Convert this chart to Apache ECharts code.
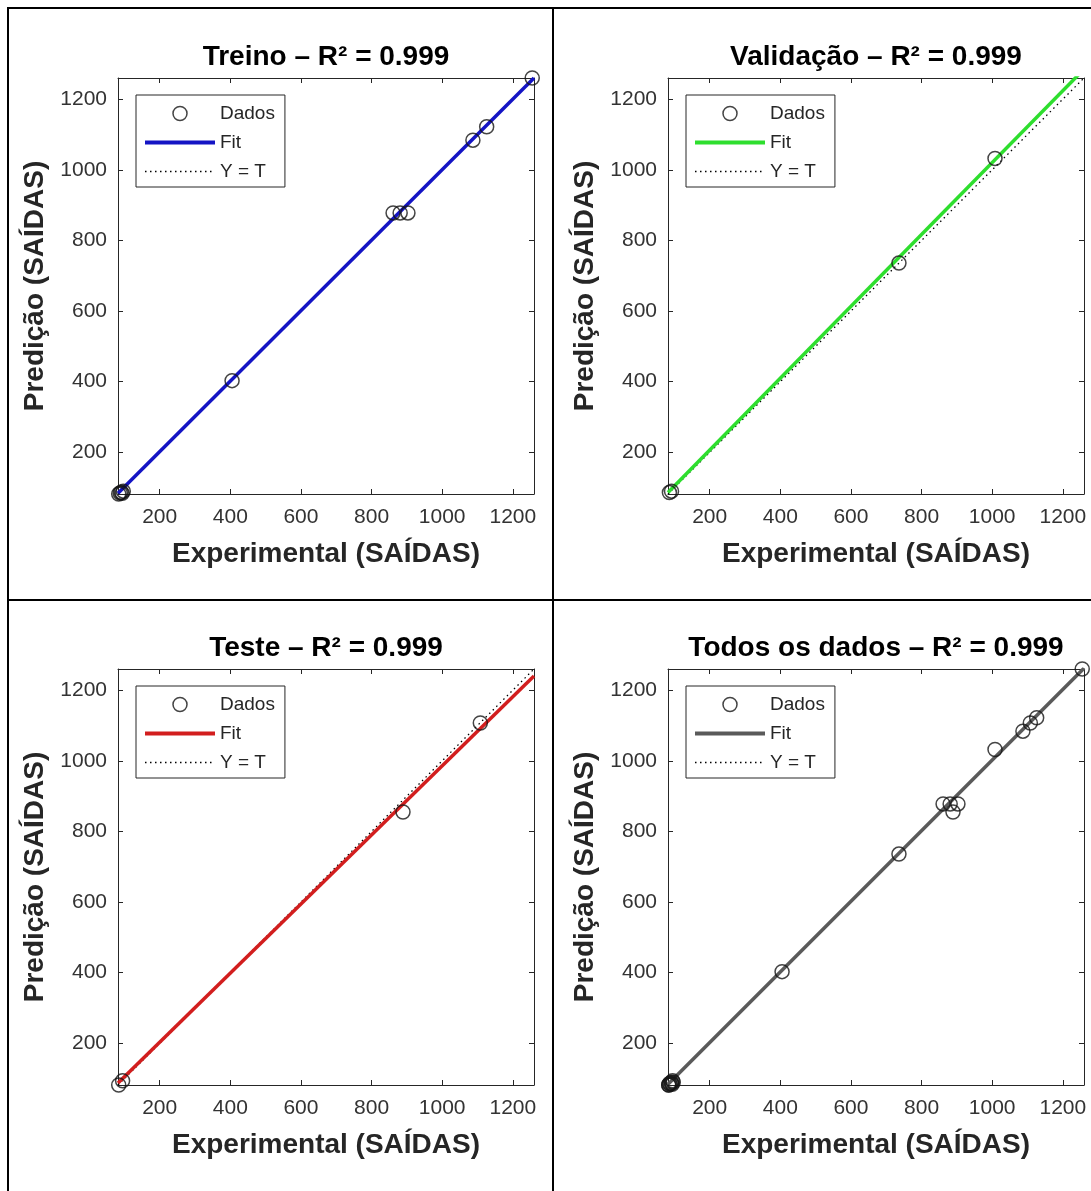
<!DOCTYPE html>
<html><head><meta charset="utf-8">
<script src="https://cdn.jsdelivr.net/npm/echarts@6/dist/echarts.min.js"></script>
<style>html,body{margin:0;padding:0;background:#fff}#c{width:1091px;height:1191px}</style>
</head><body><div id="c"></div>
<script>
// ---- data ----
const axisMin = 82, axisMax = 1260;
const tickValues = [200, 400, 600, 800, 1000, 1200];
const panelTitles = ['Treino – R² = 0.999', 'Validação – R² = 0.999', 'Teste – R² = 0.999', 'Todos os dados – R² = 0.999'];
const xName = 'Experimental (SAÍDAS)';
const yName = 'Predição (SAÍDAS)';
const legendNames = ['Dados', 'Fit', 'Y = T'];

const treinoPts = [[84, 82], [88, 85], [91, 87], [94, 84], [97, 90], [405, 403], [861, 878], [881, 878], [903, 878], [1087, 1084], [1126, 1122], [1255, 1260]];
const validacaoPts = [[86, 86], [92, 90], [736, 736], [1008, 1032]];
const testePts = [[84, 82], [95, 94], [889, 855], [1108, 1107]];
const todosPts = treinoPts.concat(validacaoPts, testePts);

const treinoFit = [[82, 84], [1260, 1260]];
const validacaoFit = [[82, 86], [1260, 1285]];
const testeFit = [[82, 88], [1260, 1240]];
const todosFit = [[82, 84], [1260, 1262]];
const identityLine = [[82, 82], [1260, 1260]];

const panelPts = [treinoPts, validacaoPts, testePts, todosPts];
const panelFits = [treinoFit, validacaoFit, testeFit, todosFit];
const fitColors = ['#1414c4', '#2ede2e', '#d21e1e', '#5a5a5a'];

// ---- layout ----
const FONT = '"Liberation Sans", Arial, sans-serif';
const TXT = '#262626';
const grids = [
  { left: 118, top: 78, width: 416, height: 416 },
  { left: 668, top: 78, width: 416, height: 416 },
  { left: 118, top: 669, width: 416, height: 416 },
  { left: 668, top: 669, width: 416, height: 416 }
];
const hidden = { color: 'rgba(0,0,0,0)', borderColor: 'rgba(0,0,0,0)', borderWidth: 0 };

const xAxes = [], yAxes = [], series = [], legends = [], graphics = [];
grids.forEach((g, i) => {
  const sfx = ' '.repeat(i);
  const baseAxis = {
    type: 'value', min: axisMin, max: axisMax, gridIndex: i,
    splitLine: { show: false },
    axisLine: { show: true, onZero: false, lineStyle: { color: TXT, width: 1 } },
    axisTick: { show: true, inside: true, length: 5, customValues: tickValues, lineStyle: { color: TXT } }
  };
  const lbl = { customValues: tickValues, fontSize: 21, color: '#333', fontFamily: FONT, formatter: v => String(v) };
  xAxes.push(Object.assign({}, baseAxis, {
    position: 'bottom',
    axisLabel: Object.assign({ margin: 13 }, lbl),
    name: xName, nameLocation: 'middle', nameGap: 46,
    nameTextStyle: { fontSize: 28, fontWeight: 'bold', color: TXT, fontFamily: FONT }
  }));
  xAxes.push(Object.assign({}, baseAxis, { position: 'top', axisLabel: { show: false } }));
  yAxes.push(Object.assign({}, baseAxis, {
    position: 'left',
    axisLabel: Object.assign({ margin: 11 }, lbl),
    name: yName, nameLocation: 'middle', nameGap: 69,
    nameTextStyle: { fontSize: 28, fontWeight: 'bold', color: TXT, fontFamily: FONT }
  }));
  yAxes.push(Object.assign({}, baseAxis, { position: 'right', axisLabel: { show: false } }));

  const xi = i * 2, yi = i * 2;
  series.push({
    name: legendNames[2] + sfx, type: 'line', xAxisIndex: xi, yAxisIndex: yi,
    data: identityLine, symbol: 'none', silent: true, z: 2,
    lineStyle: { color: '#000', width: 1.3, type: [1.5, 3.5] }, itemStyle: { color: '#000' }
  });
  series.push({
    name: legendNames[1] + sfx, type: 'line', xAxisIndex: xi, yAxisIndex: yi,
    data: panelFits[i], symbol: 'none', silent: true, z: 3,
    lineStyle: { color: fitColors[i], width: 3.5 }, itemStyle: { color: fitColors[i] }
  });
  series.push({
    name: legendNames[0] + sfx, type: 'scatter', xAxisIndex: xi, yAxisIndex: yi,
    data: panelPts[i], symbol: 'circle', symbolSize: 14, clip: false, silent: true, z: 4,
    itemStyle: { color: 'rgba(0,0,0,0)', borderColor: '#151515', borderWidth: 1.5 }
  });

  legends.push({
    left: g.left + 18, top: g.top + 17, orient: 'vertical',
    data: [
      { name: legendNames[0] + sfx },
      { name: legendNames[1] + sfx, itemStyle: hidden, lineStyle: { width: 4, color: fitColors[i] } },
      { name: legendNames[2] + sfx, itemStyle: hidden, lineStyle: { width: 1.3, color: '#000', type: [1.5, 3.5] } }
    ],
    formatter: n => n.trim(),
    selectedMode: false,
    itemWidth: 70, itemHeight: 14, itemGap: 10,
    padding: [9, 10, 6, 7],
    borderColor: TXT, borderWidth: 1, backgroundColor: '#fff',
    itemStyle: { borderWidth: 1.5 },
    textStyle: { fontSize: 19, color: TXT, fontFamily: FONT }
  });

  graphics.push({
    type: 'text', x: g.left + g.width / 2, y: g.top - 21, silent: true,
    style: { text: panelTitles[i], font: 'bold 28px ' + FONT, fill: '#000', textAlign: 'center', textVerticalAlign: 'middle' }
  });
});

// panel frame lines
graphics.push({ type: 'rect', silent: true, shape: { x: 8, y: 8, width: 1200, height: 1300 }, style: { fill: null, stroke: '#000', lineWidth: 2 } });
graphics.push({ type: 'line', silent: true, shape: { x1: 553, y1: 8, x2: 553, y2: 1191 }, style: { stroke: '#000', lineWidth: 2 } });
graphics.push({ type: 'line', silent: true, shape: { x1: 8, y1: 600, x2: 1091, y2: 600 }, style: { stroke: '#000', lineWidth: 2 } });

const chart = echarts.init(document.getElementById('c'), null, { renderer: 'canvas' });
chart.setOption({
  backgroundColor: '#fff',
  animation: false,
  grid: grids.map(g => Object.assign({ show: false, outerBoundsMode: 'none', containLabel: false }, g)),
  xAxis: xAxes,
  yAxis: yAxes,
  legend: legends,
  series: series,
  graphic: graphics
});
</script>
</body></html>
